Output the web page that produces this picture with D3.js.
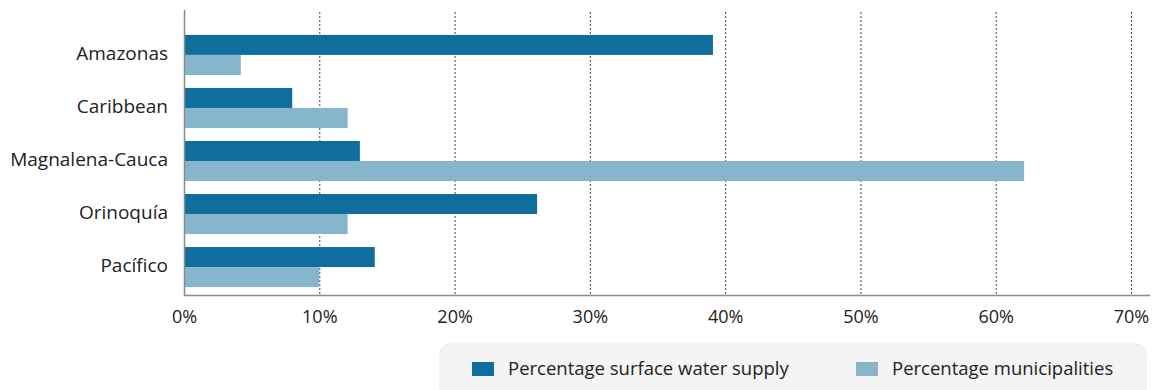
<!DOCTYPE html>
<html><head><meta charset="utf-8">
<script src="https://cdn.jsdelivr.net/npm/d3@7"></script>
<style>body{margin:0;background:#fff;}svg{display:block;font-family:"Open Sans",sans-serif;}</style>
</head><body><svg id="c" width="1154" height="390"></svg>
<script>
const categories = ["Amazonas","Caribbean","Magnalena-Cauca","Orinoquía","Pacífico"];
const surfaceWater = [39.1, 8.0, 13.0, 26.1, 14.1];
const municipalities = [4.2, 12.1, 62.1, 12.1, 10.0];
const seriesNames = ["Percentage surface water supply","Percentage municipalities"];
const xTicks = [0,10,20,30,40,50,60,70];
const colors = ["#0f6e9e","#87b5cb"];

const svg = d3.select("#c");
const left = 184, right = 1131, axisY = 295, topY = 12;
const x = d3.scaleLinear().domain([0,70]).range([left,right]);
const y = d3.scaleBand().domain(categories).range([19,303]).paddingInner(0.245).paddingOuter(0.3);
const sub = d3.scaleBand().domain([0,1]).range([0,y.bandwidth()]);

// gridlines
svg.append("g").selectAll("line").data(xTicks.slice(1)).join("line")
  .attr("x1",d=>x(d)+0.5).attr("x2",d=>x(d)+0.5).attr("y1",topY).attr("y2",axisY)
  .attr("stroke","#444").attr("stroke-width",1).attr("stroke-dasharray","2,2");

const rows = categories.map((c,i)=>({c, v:[surfaceWater[i], municipalities[i]]}));
const g = svg.append("g");
rows.forEach(r=>{
  g.selectAll(null).data(r.v).join("rect")
    .attr("x",x(0)).attr("y",(d,j)=>y(r.c)+sub(j))
    .attr("width",d=>x(d)-x(0)).attr("height",sub.bandwidth())
    .attr("fill",(d,j)=>colors[j]);
});

// axes lines
svg.append("line").attr("x1",left+0.5).attr("x2",left+0.5).attr("y1",10).attr("y2",axisY+1)
  .attr("stroke","#8a8a8a").attr("stroke-width",1.5);
const xa = svg.append("g").attr("transform",`translate(0,${axisY})`)
  .call(d3.axisBottom(x).tickValues(xTicks).tickFormat(d=>d+"%").tickSize(0).tickPadding(15));
xa.select(".domain").attr("d",`M${left},0.5H1150`).attr("stroke","#8a8a8a").attr("stroke-width",1.5);
xa.selectAll("text").attr("font-size",18).attr("fill","#222").attr("font-family","'Open Sans',sans-serif");

const ya = svg.append("g").attr("transform",`translate(${left},0)`)
  .call(d3.axisLeft(y).tickSize(0).tickPadding(16));
ya.select(".domain").remove();
ya.selectAll("text").attr("font-size",19).attr("fill","#222").attr("dy","0.28em").attr("font-family","'Open Sans',sans-serif");

// legend
const lg = svg.append("g");
lg.append("rect").attr("x",440).attr("y",344).attr("width",706).attr("height",60).attr("rx",10)
  .attr("fill","#f4f4f4").attr("stroke","#ebebeb");
const lx = [472, 856];
seriesNames.forEach((n,i)=>{
  lg.append("rect").attr("x",lx[i]).attr("y",362).attr("width",22).attr("height",14).attr("fill",colors[i]);
  lg.append("text").attr("x",lx[i]+36).attr("y",375).attr("font-size",18.5).attr("fill","#222").text(n);
});
</script></body></html>
